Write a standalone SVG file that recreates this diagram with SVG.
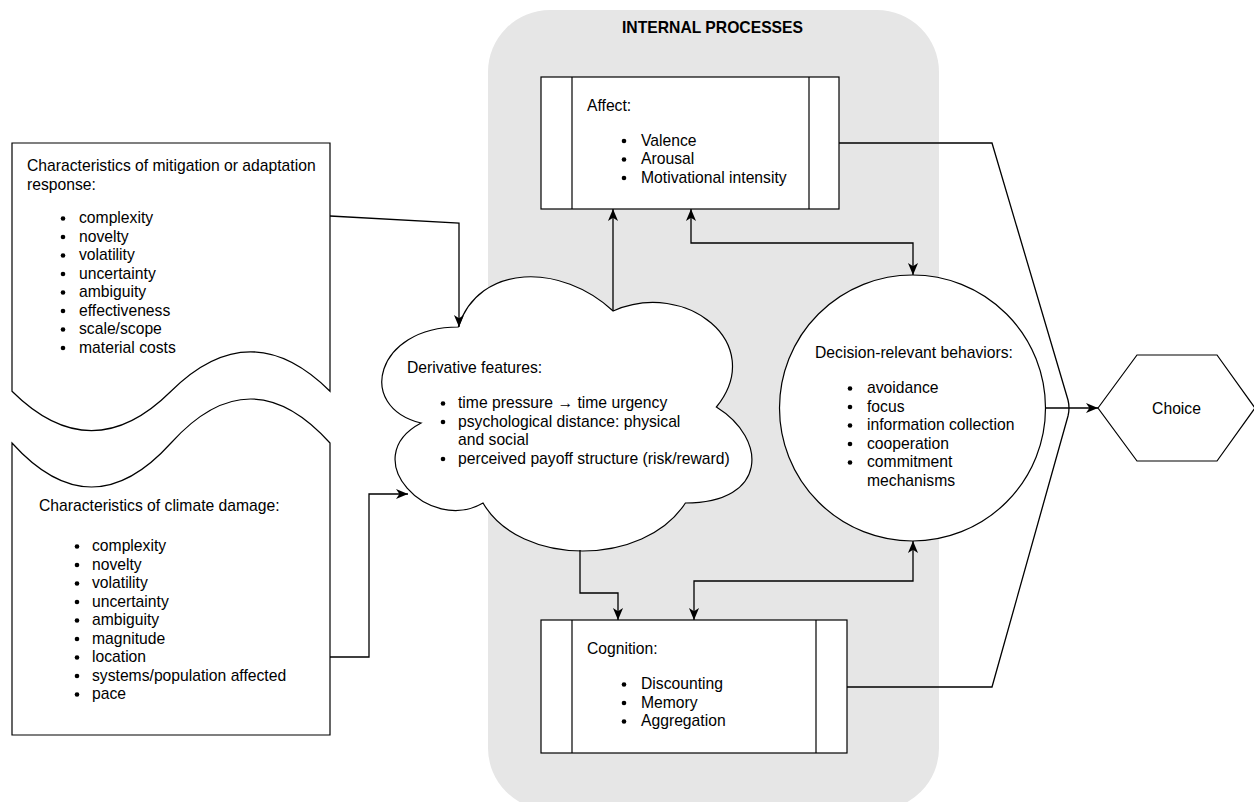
<svg xmlns="http://www.w3.org/2000/svg" width="1254" height="802" viewBox="0 0 1254 802">
<style>
text{font-family:"Liberation Sans",Arial,Helvetica,sans-serif;font-size:15.7px;fill:#000}
.title{font-weight:bold}
.shape{fill:#fff;stroke:#000;stroke-width:1.2}
.edge{fill:none;stroke:#000;stroke-width:1.3}
.dot{fill:#000}
</style>
<defs>
<marker id="arr" markerUnits="userSpaceOnUse" markerWidth="12" markerHeight="12" refX="10" refY="5" orient="auto-start-reverse" viewBox="0 0 10 10">
<path d="M0,0.8 L10,5 L0,9.2 L2.8,5 Z" fill="#000"/>
</marker>
<circle id="b" r="2.3" class="dot"/>
</defs>

<g id="internal-processes">
<rect x="488" y="10" width="451" height="800" rx="62" ry="62" fill="#e6e6e6"/>
<text class="title" x="712.5" y="33" text-anchor="middle">INTERNAL PROCESSES</text>
</g>

<g id="mitigation">
<path class="shape" d="M12,143 H330 V391.2 Q250.5,312.4 171,391.2 Q91.5,470 12,391.2 Z"/>
<text x="27" y="171">Characteristics of mitigation or adaptation</text>
<text x="27" y="189.5">response:</text>
<use href="#b" x="63" y="218.5"/><text x="79" y="223">complexity</text>
<use href="#b" x="63" y="237"/><text x="79" y="241.5">novelty</text>
<use href="#b" x="63" y="255.5"/><text x="79" y="260">volatility</text>
<use href="#b" x="63" y="274"/><text x="79" y="278.5">uncertainty</text>
<use href="#b" x="63" y="292.5"/><text x="79" y="297">ambiguity</text>
<use href="#b" x="63" y="311"/><text x="79" y="315.5">effectiveness</text>
<use href="#b" x="63" y="329.5"/><text x="79" y="334">scale/scope</text>
<use href="#b" x="63" y="348"/><text x="79" y="352.5">material costs</text>
</g>

<g id="climate-damage">
<path class="shape" d="M12,735 V443 Q91.5,531 171,443 Q250.5,355 330,443 V735 Z"/>
<text x="39" y="510.5">Characteristics of climate damage:</text>
<use href="#b" x="77" y="546.5"/><text x="92" y="551">complexity</text>
<use href="#b" x="77" y="565"/><text x="92" y="569.5">novelty</text>
<use href="#b" x="77" y="583.5"/><text x="92" y="588">volatility</text>
<use href="#b" x="77" y="602"/><text x="92" y="606.5">uncertainty</text>
<use href="#b" x="77" y="620.5"/><text x="92" y="625">ambiguity</text>
<use href="#b" x="77" y="639"/><text x="92" y="643.5">magnitude</text>
<use href="#b" x="77" y="657.5"/><text x="92" y="662">location</text>
<use href="#b" x="77" y="676"/><text x="92" y="680.5">systems/population affected</text>
<use href="#b" x="77" y="694.5"/><text x="92" y="699">pace</text>
</g>

<g id="derivative-features">
<path class="shape" d="M458.25,327 C375.65,327 355,407 421.08,423 C355,458.2 429.34,535 483.03,503 C520.2,567 644.1,567 685.4,503 C768,503 768,439 716.38,407 C768,343 685.4,279 613.13,311 C561.5,263 478.9,263 458.25,327 Z"/>
<text x="407" y="373">Derivative features:</text>
<use href="#b" x="443" y="403.5"/><text x="458" y="408">time pressure → time urgency</text>
<use href="#b" x="443" y="422"/><text x="458" y="426.5">psychological distance: physical</text>
<text x="458" y="445">and social</text>
<use href="#b" x="443" y="459"/><text x="458" y="463.5">perceived payoff structure (risk/reward)</text>
</g>

<g id="affect">
<rect class="shape" x="541" y="77" width="298" height="132"/>
<line class="shape" x1="572" y1="77" x2="572" y2="209"/>
<line class="shape" x1="809" y1="77" x2="809" y2="209"/>
<text x="587" y="111">Affect:</text>
<use href="#b" x="624" y="141"/><text x="641" y="145.5">Valence</text>
<use href="#b" x="624" y="159.5"/><text x="641" y="164">Arousal</text>
<use href="#b" x="624" y="178"/><text x="641" y="182.5">Motivational intensity</text>
</g>

<g id="cognition">
<rect class="shape" x="541" y="620" width="306" height="133"/>
<line class="shape" x1="572" y1="620" x2="572" y2="753"/>
<line class="shape" x1="816" y1="620" x2="816" y2="753"/>
<text x="587" y="654">Cognition:</text>
<use href="#b" x="624" y="684.5"/><text x="641" y="689">Discounting</text>
<use href="#b" x="624" y="703"/><text x="641" y="707.5">Memory</text>
<use href="#b" x="624" y="721.5"/><text x="641" y="726">Aggregation</text>
</g>

<g id="behaviors">
<circle class="shape" cx="912.5" cy="408" r="133"/>
<text x="815" y="358">Decision-relevant behaviors:</text>
<use href="#b" x="850" y="388.5"/><text x="867" y="393">avoidance</text>
<use href="#b" x="850" y="407"/><text x="867" y="411.5">focus</text>
<use href="#b" x="850" y="425.5"/><text x="867" y="430">information collection</text>
<use href="#b" x="850" y="444"/><text x="867" y="448.5">cooperation</text>
<use href="#b" x="850" y="462.5"/><text x="867" y="467">commitment</text>
<text x="867" y="485.5">mechanisms</text>
</g>

<g id="choice">
<polygon class="shape" points="1098,408 1137,355 1217,355 1255,408 1217,461 1137,461"/>
<text x="1176.5" y="414" text-anchor="middle">Choice</text>
</g>

<g id="connectors">
<path class="edge" d="M330,216 L459,223 L459,327" marker-end="url(#arr)"/>
<path class="edge" d="M330,657 L369,657 L369,494 L408,494" marker-end="url(#arr)"/>
<path class="edge" d="M613,311 L613,209" marker-end="url(#arr)"/>
<path class="edge" d="M691,209 L691,243 L913,243 L913,275" marker-start="url(#arr)" marker-end="url(#arr)"/>
<path class="edge" d="M580,550 L580,593 L618,593 L618,620" marker-end="url(#arr)"/>
<path class="edge" d="M694,620 L694,581 L913,581 L913,541" marker-start="url(#arr)" marker-end="url(#arr)"/>
<path class="edge" d="M839,143 L992,143 L1068,400 Q1070,408 1068,416 L992,687 L847,687"/>
<path class="edge" d="M1045.5,408 L1098,408" marker-end="url(#arr)"/>
</g>
</svg>
